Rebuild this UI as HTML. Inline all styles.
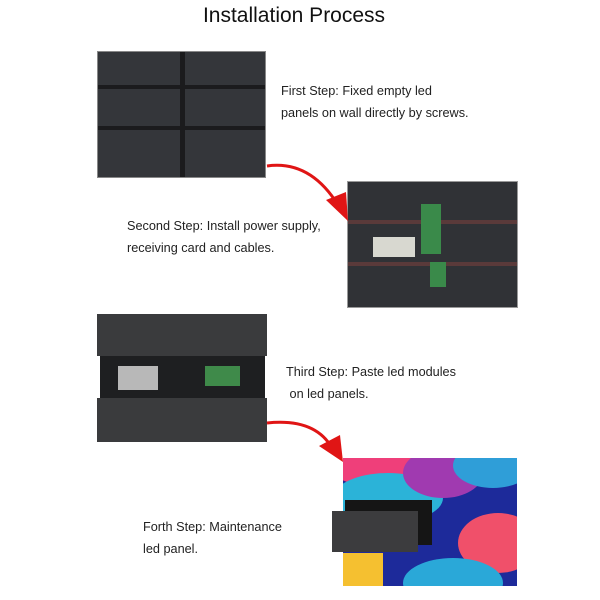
<!DOCTYPE html>
<html><head><style>
body{margin:0;width:600px;height:600px;background:#fff;position:relative;overflow:hidden;font-family:"Liberation Sans",sans-serif;}
.t{position:absolute;font-size:12.7px;color:#222;line-height:22px;white-space:nowrap}
.p{position:absolute;background:#2a2b2e;}
</style></head><body>
<div style="position:absolute;left:-6px;top:4px;width:600px;text-align:center;font-size:21px;color:#111">Installation Process</div>

<div class="p" style="left:97px;top:51px;width:169px;height:127px;background:#34363a;border:1px solid #888;box-sizing:border-box">
<div style="position:absolute;left:0;top:33px;width:100%;height:4px;background:#1b1b1d"></div>
<div style="position:absolute;left:0;top:74px;width:100%;height:4px;background:#1b1b1d"></div>
<div style="position:absolute;left:82px;top:0;width:5px;height:100%;background:#1b1b1d"></div>
</div>
<div class="t" style="left:281px;top:80px">First Step: Fixed empty led<br>panels on wall directly by screws.</div>

<div class="p" style="left:347px;top:181px;width:171px;height:127px;background:#303236;border:1px solid #999;box-sizing:border-box">
<div style="position:absolute;left:0;top:38px;width:100%;height:4px;background:#5a3a3a"></div>
<div style="position:absolute;left:0;top:80px;width:100%;height:4px;background:#5a3a3a"></div>
<div style="position:absolute;left:25px;top:55px;width:42px;height:20px;background:#d8d8d0"></div>
<div style="position:absolute;left:73px;top:22px;width:20px;height:50px;background:#3a8a4a"></div>
<div style="position:absolute;left:82px;top:80px;width:16px;height:25px;background:#3a8a4a"></div>
</div>
<div class="t" style="left:127px;top:215px">Second Step: Install power supply,<br>receiving card and cables.</div>

<div class="p" style="left:97px;top:314px;width:170px;height:42px;background:#3a3b3d"></div>
<div class="p" style="left:100px;top:356px;width:165px;height:42px;background:#1e1f21">
<div style="position:absolute;left:18px;top:10px;width:40px;height:24px;background:#b8b8b8"></div>
<div style="position:absolute;left:105px;top:10px;width:35px;height:20px;background:#3f8a4a"></div>
</div>
<div class="p" style="left:97px;top:398px;width:170px;height:44px;background:#3a3b3d"></div>
<div class="t" style="left:286px;top:361px">Third Step: Paste led modules<br>&nbsp;on led panels.</div>

<div style="position:absolute;left:343px;top:458px;width:174px;height:128px;background:#1d2a9a;overflow:hidden">
<div style="position:absolute;left:-20px;top:-30px;width:120px;height:60px;border-radius:50%;background:#ef3f7a"></div>
<div style="position:absolute;left:-10px;top:15px;width:110px;height:50px;border-radius:50%;background:#2bb3d8"></div>
<div style="position:absolute;left:60px;top:-10px;width:80px;height:50px;border-radius:50%;background:#a03ab0"></div>
<div style="position:absolute;left:110px;top:-15px;width:80px;height:45px;border-radius:50%;background:#2f9ed8"></div>
<div style="position:absolute;left:115px;top:55px;width:80px;height:60px;border-radius:50%;background:#f0506a"></div>
<div style="position:absolute;left:60px;top:100px;width:100px;height:50px;border-radius:50%;background:#2aa8d8"></div>
<div style="position:absolute;left:-10px;top:95px;width:50px;height:50px;background:#f5c030"></div>
</div>
<div class="p" style="left:345px;top:500px;width:87px;height:45px;background:#151515"></div>
<div class="p" style="left:332px;top:511px;width:86px;height:41px;background:#3c3c3e"></div>
<div class="t" style="left:143px;top:516px">Forth Step: Maintenance<br>led panel.</div>

<svg style="position:absolute;left:0;top:0" width="600" height="600">
<path d="M267 166 Q310 160 338 205" fill="none" stroke="#e01515" stroke-width="3"/>
<polygon points="348,221 326,200 346,192" fill="#e01515"/>
<path d="M267 423 Q315 418 332 448" fill="none" stroke="#e01515" stroke-width="3"/>
<polygon points="343,462 319,446 340,435" fill="#e01515"/>
</svg>
</body></html>
